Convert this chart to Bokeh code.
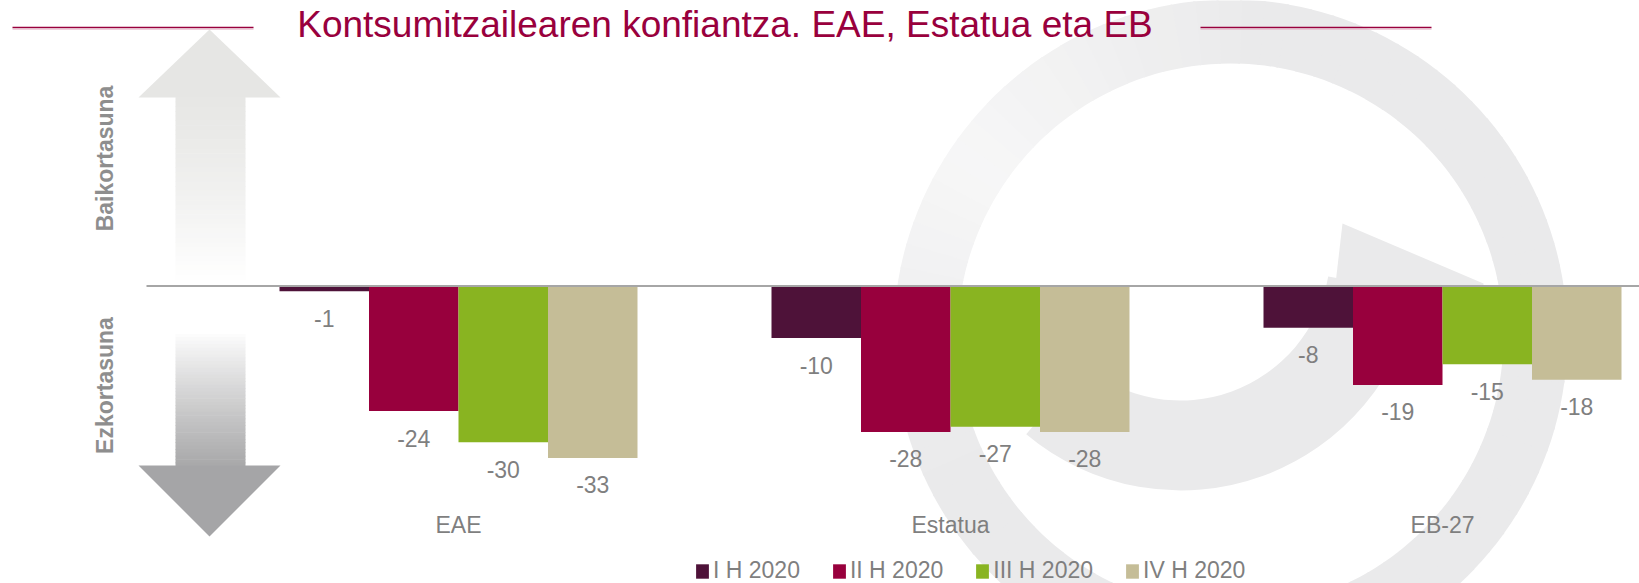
import math
from bokeh.plotting import figure
from bokeh.models import Range1d, Legend, LegendItem, ColumnDataSource
from bokeh.core.properties import value
from bokeh.embed import file_html
from bokeh.resources import INLINE

# ---------------- data ----------------
categories = ["EAE", "Estatua", "EB-27"]
series_names = ["I H 2020", "II H 2020", "III H 2020", "IV H 2020"]
s_1 = [-1, -10, -8]
s_2 = [-24, -28, -19]
s_3 = [-30, -27, -15]
s_4 = [-33, -28, -18]
series_values = [s_1, s_2, s_3, s_4]
colors = ["#4e1239", "#98003d", "#89b421", "#c5bd97"]
title_text = "Kontsumitzailearen konfiantza. EAE, Estatua eta EB"
up_label = "Baikortasuna"
down_label = "Ezkortasuna"

# ---------------- layout constants ----------------
W, H = 1639, 583
PAGE = 0
PX_PER_CAT = 492.0
CAT0_PX = 458.0
BASE_PX = 285.5
PX_PER_UNIT = 5.21
BAR_W = 89.5 / PX_PER_CAT
LABEL_GAP = 27.0          # px between bar end and label centre
FONT = value("Liberation Sans")
GREY = "#7f7f7f"

x0 = -(CAT0_PX - PAGE) / PX_PER_CAT
x1 = x0 + W / PX_PER_CAT
y1 = (BASE_PX - PAGE) / PX_PER_UNIT
y0 = y1 - H / PX_PER_UNIT


def dx(px):
    return x0 + (px - PAGE) / PX_PER_CAT


def dy(py):
    return (BASE_PX - py) / PX_PER_UNIT


def mix(c1, c2, t):
    a = [int(c1[i:i + 2], 16) for i in (1, 3, 5)]
    b = [int(c2[i:i + 2], 16) for i in (1, 3, 5)]
    return "#%02x%02x%02x" % tuple(int(round(a[k] + (b[k] - a[k]) * t)) for k in range(3))


p = figure(width=W, height=H, x_range=Range1d(x0, x1), y_range=Range1d(y0, y1),
           output_backend="svg", toolbar_location=None,
           min_border=0, min_border_left=0, min_border_right=0,
           min_border_top=0, min_border_bottom=0)
p.axis.visible = False
p.grid.visible = False
p.outline_line_color = None
p.background_fill_color = "white"
p.border_fill_color = "white"

# ---------------- watermark (logo) ----------------
WM = "#eaeaeb"
ring_cx, ring_cy = dx(1230), dy(336)
starts, ends, cols = [], [], []
STEP = 4
for a in range(0, 360, STEP):
    mid = a + STEP / 2
    dist = abs(((mid - 145) + 180) % 360 - 180)
    fade = max(0.0, 1 - dist / 60.0) * 0.6
    starts.append(math.radians(a))
    ends.append(math.radians(a + STEP + 0.4))
    cols.append(mix(WM, "#ffffff", fade))
p.annular_wedge(x=[ring_cx] * len(starts), y=[ring_cy] * len(starts),
                inner_radius=273, outer_radius=337,
                inner_radius_units="screen", outer_radius_units="screen",
                start_angle=starts, end_angle=ends, direction="anticlock",
                fill_color=cols, line_color=None)
p.annular_wedge(x=dx(1180), y=dy(250), inner_radius=150, outer_radius=240,
                inner_radius_units="screen", outer_radius_units="screen",
                start_angle=math.radians(-130), end_angle=math.radians(-10),
                direction="anticlock", fill_color=WM, line_color=None)
p.patch(x=[dx(1342), dx(1483), dx(1483), dx(1334)], y=[dy(223), dy(283), dy(292), dy(292)],
        fill_color=WM, line_color=None)

# ---------------- side arrows ----------------
p.patch(x=[dx(138), dx(209), dx(280)], y=[dy(97), dy(29), dy(97)],
        fill_color="#e6e6e4", line_color=None)
N = 40
top_px, bot_px = 96.5, 284
l, r, t, b, c = [], [], [], [], []
for i in range(N):
    ya = top_px + (bot_px - top_px) * i / N
    yb = top_px + (bot_px - top_px) * (i + 1) / N + 0.6
    l.append(dx(175)); r.append(dx(245)); t.append(dy(ya)); b.append(dy(yb))
    c.append(mix("#e7e7e5", "#ffffff", (i / (N - 1)) ** 1.3))
p.quad(left=l, right=r, top=t, bottom=b, fill_color=c, line_color=None)

top_px, bot_px = 330, 465.5
l, r, t, b, c = [], [], [], [], []
for i in range(N):
    ya = top_px + (bot_px - top_px) * i / N
    yb = top_px + (bot_px - top_px) * (i + 1) / N + 0.6
    l.append(dx(175)); r.append(dx(245)); t.append(dy(ya)); b.append(dy(yb))
    c.append(mix("#ffffff", "#a9a9aa", (i / (N - 1)) ** 0.9))
p.quad(left=l, right=r, top=t, bottom=b, fill_color=c, line_color=None)
p.patch(x=[dx(138), dx(280), dx(209)], y=[dy(465), dy(465), dy(536)],
        fill_color="#a5a5a7", line_color=None)

p.text(x=[dx(104), dx(104)], y=[dy(158), dy(385)], text=[up_label, down_label],
       angle=math.pi / 2, text_align="center", text_baseline="middle",
       text_font=FONT, text_font_style="bold", text_font_size="23px",
       text_color="#8e8e8e")

# ---------------- bars ----------------
offsets = [-1.5, -0.5, 0.5, 1.5]
legend_items = []
for k, (name, vals, col) in enumerate(zip(series_names, series_values, colors)):
    xs = [i + offsets[k] * BAR_W for i in range(len(categories))]
    src = ColumnDataSource(dict(x=xs, top=vals,
                                ly=[v - LABEL_GAP / PX_PER_UNIT for v in vals],
                                lab=[str(v) for v in vals]))
    rr = p.vbar(x="x", top="top", bottom=0, width=BAR_W, source=src,
                fill_color=col, line_color=None)
    legend_items.append(LegendItem(label=name, renderers=[rr]))
    p.text(x="x", y="ly", text="lab", source=src, text_align="center",
           text_baseline="middle", text_font=FONT, text_font_size="23px",
           text_color=GREY)

# zero line
p.segment(x0=[dx(146)], y0=[0], x1=[x1], y1=[0], line_color="#a6a6a6", line_width=2)

# category labels
p.text(x=list(range(len(categories))), y=[dy(524)] * len(categories), text=categories,
       text_align="center", text_baseline="middle", text_font=FONT,
       text_font_size="23px", text_color=GREY)

# ---------------- title ----------------
p.text(x=[dx(724.5)], y=[dy(24)], text=[title_text], text_align="center",
       text_baseline="middle", text_font=FONT, text_font_size="37px",
       text_color="#99003d")
p.segment(x0=[dx(12), dx(1200)], y0=[dy(27)] * 2, x1=[dx(253), dx(1431)], y1=[dy(27)] * 2,
          line_color="#99003d", line_width=1.5)
p.segment(x0=[dx(12), dx(1200)], y0=[dy(28.6)] * 2, x1=[dx(253), dx(1431)], y1=[dy(28.6)] * 2,
          line_color="#e5b3c6", line_width=1)

# ---------------- legend ----------------
legend = Legend(items=legend_items, orientation="horizontal", location=(694, -1),
                glyph_width=16, glyph_height=18, label_standoff=3, spacing=31,
                padding=0, margin=0, border_line_color=None, background_fill_alpha=0,
                label_text_font="Liberation Sans", label_text_font_size="23px",
                label_text_color=GREY)
p.add_layout(legend, "center")

open("out.html", "w").write(file_html(p, INLINE))
